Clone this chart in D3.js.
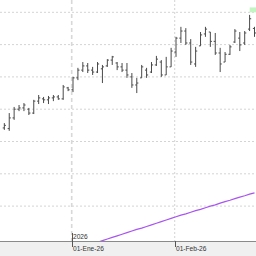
<!DOCTYPE html>
<meta charset="utf-8">
<html>
    <head>
        <style type="text/css">
            body { margin:0; background:#fff; }
            svg { display:block; }
            .axisText { font-family: "Liberation Sans", Arial, sans-serif; font-size: 6.6px; fill: #333; }
        </style>
        <script src="https://d3js.org/d3.v7.min.js"></script>
    </head>
    <body>
        <svg width="256" height="256"></svg>
        <script type="text/javascript">
            var width = 256;
            var height = 256;
            var plotBottom = 241;

            // trading days shown
            var dates = ["2025-12-11","2025-12-12","2025-12-15","2025-12-16","2025-12-17","2025-12-18","2025-12-19",
                "2025-12-22","2025-12-23","2025-12-24","2025-12-26","2025-12-29","2025-12-30","2025-12-31",
                "2026-01-02","2026-01-05","2026-01-06","2026-01-07","2026-01-08","2026-01-09","2026-01-12",
                "2026-01-13","2026-01-14","2026-01-15","2026-01-16","2026-01-19","2026-01-20","2026-01-21",
                "2026-01-22","2026-01-23","2026-01-26","2026-01-27","2026-01-28","2026-01-29","2026-01-30",
                "2026-02-02","2026-02-03","2026-02-04","2026-02-05","2026-02-06","2026-02-09","2026-02-10",
                "2026-02-11","2026-02-12","2026-02-13","2026-02-16","2026-02-17","2026-02-18","2026-02-19",
                "2026-02-20","2026-02-23","2026-02-24"];

            var opens  = [134.2,134.0,137.3,140.0,140.4,140.0,138.8,142.5,143.2,142.9,143.5,143.8,143.2,146.6,
                146.0,149.7,152.1,153.4,152.1,151.5,152.5,153.4,155.2,154.3,153.1,152.1,150.0,147.5,
                149.7,152.1,151.5,153.7,154.6,150.6,153.1,157.7,162.0,164.2,160.5,154.0,159.6,163.3,
                163.9,161.0,157.4,154.6,157.0,160.8,162.0,160.5,164.8,165.0];
            var highs  = [135.7,138.8,140.7,141.3,141.9,140.4,142.9,144.4,143.8,144.1,144.4,144.4,147.5,146.9,
                150.0,152.8,154.6,154.3,153.1,154.6,153.7,155.5,156.5,154.6,154.3,154.3,151.2,149.7,
                153.7,152.8,154.6,156.5,155.2,156.2,159.0,162.4,165.5,165.1,161.7,159.3,163.9,165.5,
                163.9,163.6,159.0,157.7,159.9,164.8,163.9,164.2,169.2,165.5];
            var lows   = [133.6,133.3,136.7,139.4,139.4,138.2,138.5,141.6,141.9,141.6,142.5,142.9,142.9,145.6,
                145.3,149.0,151.5,151.2,150.6,151.2,148.1,153.1,153.7,152.1,151.5,149.7,146.6,145.0,
                149.7,149.7,151.2,153.4,150.0,150.6,153.1,156.2,160.5,159.9,153.7,153.1,159.6,162.4,
                159.3,156.8,151.5,154.6,156.8,160.5,158.0,159.9,164.2,162.4];
            var closes = [135.0,137.3,140.0,140.4,141.3,138.8,142.5,143.5,142.9,143.5,143.8,143.2,146.9,146.0,
                149.7,152.1,153.4,152.1,151.5,154.0,153.1,155.2,156.2,153.1,152.1,150.6,147.5,148.1,
                153.1,150.6,153.7,155.5,150.6,153.1,158.0,162.0,164.2,160.5,154.6,158.0,163.0,164.8,
                161.0,157.4,154.0,157.0,159.3,164.2,159.9,163.6,168.0,163.6];

            // purple indicator line (starts below the visible area)
            var indicator = [null,null,null,null,null,null,null,null,null,null,null,null,null,null,null,null,
                97.3,97.8,98.3,98.8,99.3,99.8,100.3,100.8,101.3,101.8,102.3,102.8,103.2,103.7,104.2,104.7,
                105.2,105.7,106.2,106.7,107.2,107.6,108.1,108.6,109.0,109.5,110.0,110.4,110.9,111.4,111.8,
                112.3,112.8,113.2,113.7,114.1];

            var gridPrices = [170, 160, 150, 140, 130, 120, 110];
            var monthTicks = [{date: "2026-01-02", label: "01-Ene-26", year: "2026"},
                              {date: "2026-02-02", label: "01-Feb-26", year: null}];
            var markerBand = [170, 171.5];

            var bars = dates.map((d, i) => ({date: d, o: opens[i], h: highs[i], l: lows[i], c: closes[i]}));

            var xScale = d3.scalePoint()
                .domain(dates)
                .range([4.33, 254.5]);

            var yScale = d3.scaleLinear()
                .domain([170, 110])
                .range([12.3, 206.1]);

            var svg = d3.select("svg");

            svg.append("clipPath").attr("id", "plot")
                .append("rect").attr("x", 0).attr("y", 0).attr("width", width).attr("height", plotBottom);

            // horizontal grid
            svg.selectAll(".hgrid")
                .data(gridPrices)
                .enter().append("line")
                .attr("class", "hgrid")
                .attr("x1", 0).attr("x2", width)
                .attr("y1", d => yScale(d)).attr("y2", d => yScale(d))
                .attr("stroke", "#d4d4d4")
                .attr("stroke-dasharray", "2,2");

            // vertical month grid
            svg.selectAll(".vgrid")
                .data(monthTicks)
                .enter().append("line")
                .attr("class", "vgrid")
                .attr("x1", d => xScale(d.date) - 1.3).attr("x2", d => xScale(d.date) - 1.3)
                .attr("y1", 0).attr("y2", plotBottom)
                .attr("stroke", d => d.year ? "#d8d8d8" : "#d4d4d4")
                .attr("stroke-width", d => d.year ? 1.6 : 1)
                .attr("stroke-dasharray", d => d.year ? "4,3" : "2,2");

            // marker label at right
            svg.append("rect")
                .attr("x", 249.7).attr("y", yScale(markerBand[1]))
                .attr("width", 7).attr("height", yScale(markerBand[0]) - yScale(markerBand[1]))
                .attr("fill", "#c2f5c2");

            var g = svg.append("g").attr("clip-path", "url(#plot)");

            // OHLC bars
            var barColor = "#4a4a4a";
            g.selectAll(".hl")
                .data(bars)
                .enter().append("line")
                .attr("x1", d => xScale(d.date)).attr("x2", d => xScale(d.date))
                .attr("y1", d => yScale(d.h)).attr("y2", d => yScale(d.l))
                .attr("stroke", barColor);
            g.selectAll(".open")
                .data(bars)
                .enter().append("line")
                .attr("x1", d => xScale(d.date) - 1.6).attr("x2", d => xScale(d.date))
                .attr("y1", d => yScale(d.o)).attr("y2", d => yScale(d.o))
                .attr("stroke", barColor);
            g.selectAll(".close")
                .data(bars)
                .enter().append("line")
                .attr("x1", d => xScale(d.date)).attr("x2", d => xScale(d.date) + 1.6)
                .attr("y1", d => yScale(d.c)).attr("y2", d => yScale(d.c))
                .attr("stroke", barColor);

            // indicator
            var line = d3.line()
                .defined(d => d.v !== null)
                .x(d => xScale(d.date))
                .y(d => yScale(d.v));
            g.append("path")
                .datum(dates.map((d, i) => ({date: d, v: indicator[i]})))
                .attr("d", line)
                .attr("fill", "none")
                .attr("stroke", "#a855f0")
                .attr("stroke-width", 1.2);

            // bottom axis band
            svg.append("rect")
                .attr("x", 0).attr("y", plotBottom)
                .attr("width", width).attr("height", height - plotBottom)
                .attr("fill", "#f0f0f0");
            svg.append("line")
                .attr("x1", 0).attr("x2", width)
                .attr("y1", plotBottom + 0.5).attr("y2", plotBottom + 0.5)
                .attr("stroke", "#8a8a8a");

            // month ticks and labels
            monthTicks.forEach(t => {
                var x = Math.round(xScale(t.date) - 1.3) + 0.5;
                svg.append("line")
                    .attr("x1", x).attr("x2", x)
                    .attr("y1", t.year ? 233 : plotBottom).attr("y2", 247)
                    .attr("stroke", "#555");
                svg.append("text")
                    .attr("class", "axisText")
                    .attr("x", x + 0.5).attr("y", 250.5)
                    .text(t.label);
                if (t.year) {
                    svg.append("text")
                        .attr("class", "axisText")
                        .attr("x", x + 0.5).attr("y", 239)
                        .text(t.year);
                }
            });
        </script>
    </body>
</html>
